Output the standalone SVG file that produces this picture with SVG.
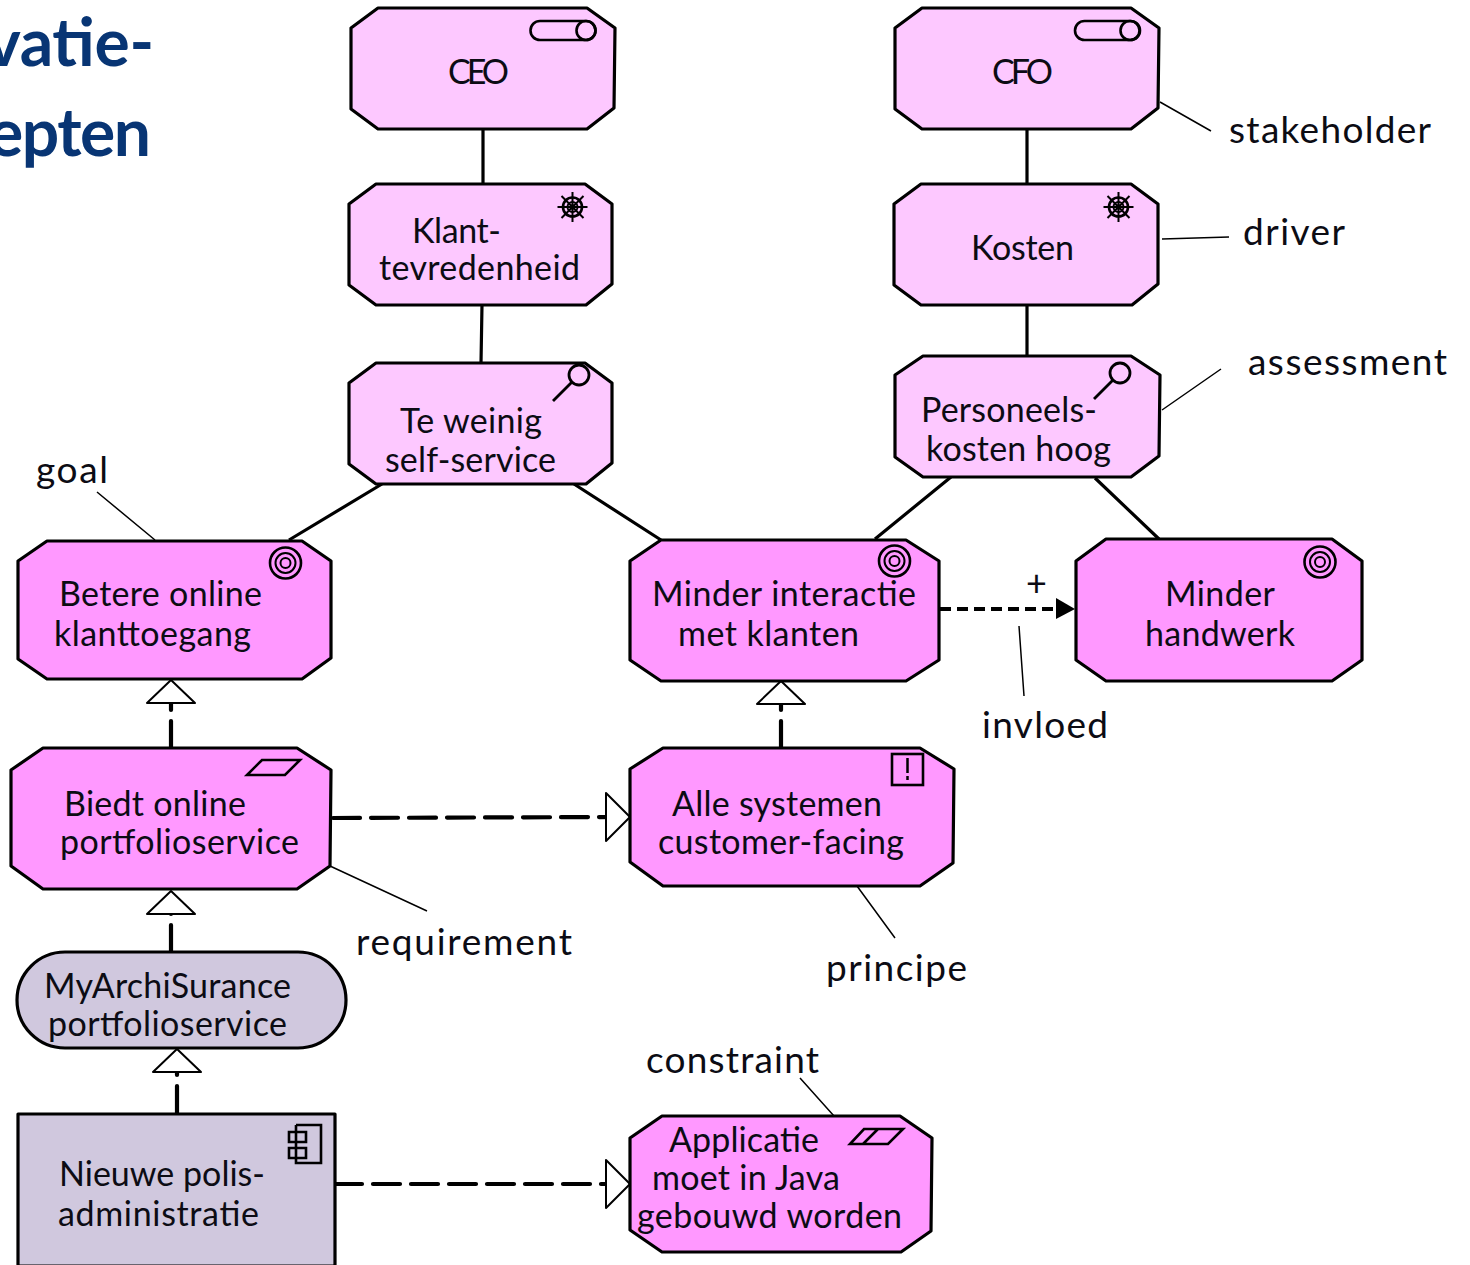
<svg xmlns="http://www.w3.org/2000/svg" width="1470" height="1265" viewBox="0 0 1470 1265">
<style>
text{font-family:Lato,"Noto Sans",sans-serif;font-size:34px;fill:#0c0c14}
.title{font-size:66px;font-weight:700;fill:#083574}
.n{stroke:#000;stroke-width:3.2;stroke-linejoin:round}
.lt{fill:#fdc8ff}.mid{fill:#ff98ff}.gr{fill:#d0c8de}
.c{fill:none;stroke:#000;stroke-width:3.2}
.t{fill:none;stroke:#000;stroke-width:1.5}
.d{fill:none;stroke:#000;stroke-width:4.2;stroke-dasharray:27 11;stroke-linecap:round}
.h{fill:#fff;stroke:#000;stroke-width:2;stroke-linejoin:round}
.i{fill:none;stroke:#000;stroke-width:2.6}
</style>
<defs>
<g id="wheel"><circle r="9.5" class="i"/><circle r="5" fill="none" stroke="#000" stroke-width="2"/><path d="M-15 0H15M0-15V15M-11-11L11 11M-11 11L11-11" stroke="#000" stroke-width="2"/></g>
<g id="lens"><circle cx="6" cy="-7" r="10" fill="none" stroke="#000" stroke-width="2.8"/><path d="M-1 0L-20 19" stroke="#000" stroke-width="2.8"/></g>
<g id="target"><circle r="15.5" class="i"/><circle r="10" fill="none" stroke="#000" stroke-width="2"/><circle r="5" fill="none" stroke="#000" stroke-width="2"/></g>
</defs>
<text class="title" x="-14" y="66" textLength="168">vatie-</text>
<text class="title" x="-12" y="156" textLength="163">epten</text>
<g id="connectors">
<path class="c" d="M483 129V184M482 305L481 363M1027 129V184M1027 305V356M382 484L289 540M574 484L661 540M951 477L875 539M1095 478L1159 539"/>
<path class="t" d="M1160 102L1211 131M1162 239L1229 237M1162 410L1221 369M97 492L155 540M330 866L427 911M857 886L895 938M800 1078L834 1116M1019 626L1024 696"/>
<path class="d" d="M171 748V694M781 748V694M171 952V904M177 1113V1062M333 818L620 817M335 1184L620 1184"/>
<path fill="none" stroke="#000" stroke-width="4.2" stroke-dasharray="11 6" d="M940 609H1058"/>
<path d="M1056 598L1075 609L1056 619Z"/>
<path class="h" d="M171 680L195 703H147Z"/><path class="h" d="M781 681L805 704H757Z"/><path class="h" d="M171 891L195 914H147Z"/><path class="h" d="M177 1049L201 1072H153Z"/>
<path class="h" d="M630 817L606 793V841Z"/><path class="h" d="M630 1184L606 1160V1208Z"/>
<text x="1026" y="596" style="font-size:36px">+</text>
</g>
<g id="ceo"><polygon class="n lt" points="378,8 587,8 615,28 614,108 587,129 378,129 351,109 351,28"/><rect x="530.500" y="21" width="65" height="19" rx="9.500" class="i" fill="none"/><circle cx="586" cy="30.500" r="9.500" class="i"/><text x="448" y="84" textLength="61">CEO</text></g>
<g id="cfo"><polygon class="n lt" points="922,8 1131,8 1159,28 1158,108 1131,129 922,129 895,109 895,28"/><rect x="1075" y="21" width="65" height="19" rx="9.500" class="i"/><circle cx="1130" cy="30.500" r="9.500" class="i"/><text x="992" y="84" textLength="61">CFO</text></g>
<g id="klant"><polygon class="n lt" points="376,184 585,184 612,204 612,284 586,305 376,305 349,285 349,204"/><use href="#wheel" x="572.500" y="207"/><text x="412" y="243" textLength="89">Klant-</text><text x="379" y="280" textLength="201">tevredenheid</text></g>
<g id="kosten"><polygon class="n lt" points="921,184 1131,184 1158,204 1158,284 1132,305 921,305 894,285 894,204"/><use href="#wheel" x="1118.500" y="207"/><text x="971" y="260" textLength="103">Kosten</text></g>
<g id="weinig"><polygon class="n lt" points="376,363 585,363 612,383 612,463 586,484 376,484 349,464 349,383"/><use href="#lens" x="573" y="382"/><text x="400" y="433" textLength="142">Te weinig</text><text x="385" y="472" textLength="171">self-service</text></g>
<g id="personeel"><polygon class="n lt" points="923,356 1131,356 1160,375 1159,456 1131,477 923,477 895,457 895,375"/><use href="#lens" x="1114" y="380"/><text x="921" y="422" textLength="176">Personeels-</text><text x="926" y="461" textLength="185">kosten hoog</text></g>
<g id="betere"><polygon class="n mid" points="47,541 302,541 331,561 331,658 302,679 47,679 18,659 18,561"/><use href="#target" x="285.500" y="563"/><text x="59" y="606" textLength="203">Betere online</text><text x="54" y="646" textLength="197">klanttoegang</text></g>
<g id="minder-interactie"><polygon class="n mid" points="661,540 906,540 939,561 939,660 906,681 661,681 630,660 630,561"/><use href="#target" x="894.500" y="561"/><text x="652" y="606" textLength="264">Minder interactie</text><text x="678" y="646" textLength="181">met klanten</text></g>
<g id="minder-handwerk"><polygon class="n mid" points="1106,539 1332,539 1362,561 1362,660 1332,681 1106,681 1076,660 1076,561"/><use href="#target" x="1320" y="562"/><text x="1165" y="606" textLength="110">Minder</text><text x="1145" y="646" textLength="150">handwerk</text></g>
<g id="biedt"><polygon class="n mid" points="43,748 297,748 331,770 330,866 297,889 43,889 11,866 11,770"/><path class="i" d="M262 760H300L285 775H247Z"/><text x="64" y="816" textLength="182">Biedt online</text><text x="60" y="854" textLength="239">portfolioservice</text></g>
<g id="alle"><polygon class="n mid" points="663,748 920,748 954,769 953,863 920,886 663,886 630,862 630,769"/><rect x="892" y="754" width="31" height="31" class="i"/><path d="M907.500 758V773M907.500 776V780" stroke="#000" stroke-width="2.500"/><text x="672" y="816" textLength="210">Alle systemen</text><text x="658" y="854" textLength="246">customer-facing</text></g>
<g id="myarchi"><rect x="17" y="952" width="329" height="96" rx="48" class="n gr"/><text x="44" y="998" textLength="247">MyArchiSurance</text><text x="48" y="1036" textLength="239">portfolioservice</text></g>
<g id="nieuwe"><rect x="18" y="1114" width="317" height="152" class="n gr"/><path class="i" d="M296 1125H321V1163H296V1125M289 1132H306V1142H289ZM289 1148H306V1158H289Z"/><text x="59" y="1186" textLength="206">Nieuwe polis-</text><text x="58" y="1226" textLength="201">administratie</text></g>
<g id="applicatie"><polygon class="n mid" points="662,1116 900,1116 932,1138 931,1231 901,1252 662,1252 630,1230 630,1138"/><path class="i" d="M864 1129H903L888 1144H850ZM878 1129L863 1144"/><text x="669" y="1152" textLength="150">Applicatie</text><text x="652" y="1190" textLength="188">moet in Java</text><text x="637" y="1228" textLength="265">gebouwd worden</text></g>
<g id="labels">
<text x="1229" y="143" textLength="202" style="font-size:37px">stakeholder</text>
<text x="1243" y="245" textLength="102" style="font-size:37px">driver</text>
<text x="1248" y="375" textLength="199" style="font-size:37px">assessment</text>
<text x="36" y="483" textLength="72" style="font-size:37px">goal</text>
<text x="982" y="738" textLength="126" style="font-size:37px">invloed</text>
<text x="356" y="955" textLength="216" style="font-size:37px">requirement</text>
<text x="826" y="981" textLength="141" style="font-size:37px">principe</text>
<text x="646" y="1073" textLength="173" style="font-size:37px">constraint</text>
</g>
</svg>
